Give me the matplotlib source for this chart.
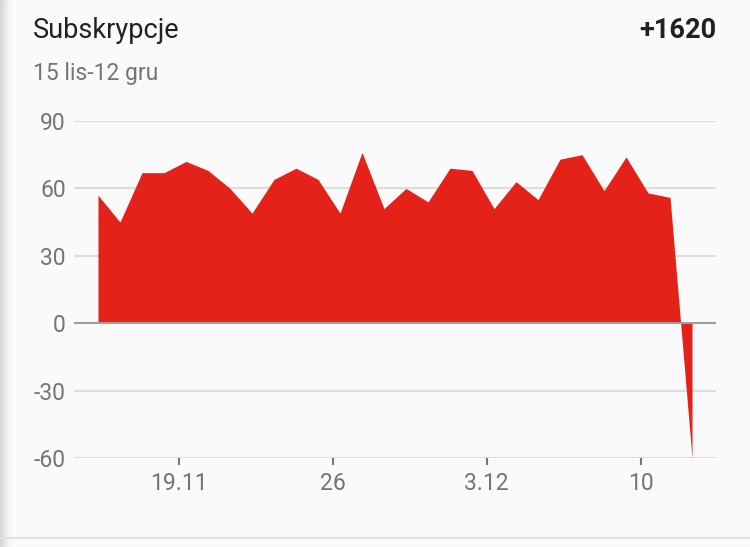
import numpy as np
import matplotlib
matplotlib.use("Agg")
import matplotlib.pyplot as plt
from matplotlib.patches import Rectangle
from matplotlib.lines import Line2D

# daily new subscriptions, 15 Nov - 12 Dec
days = list(range(28))
subs = [57, 45, 67, 67, 72, 68, 60, 49, 64, 69, 64, 49, 76, 51,
        60, 54, 69, 68, 51, 63, 55, 73, 75, 59, 74, 58, 56, -60]

tick_days = [4, 11, 18, 25]          # 19.11, 26, 3.12, 10
tick_labels = ["19.11", "26", "3.12", "10"]
y_ticks = [-60, -30, 0, 30, 60, 90]

title = "Subskrypcje"
total = "+1620"
subtitle = "15 lis-12 gru"

plt.rcParams['font.family'] = ['Roboto', 'DejaVu Sans']

bg = '#fafafa'
red = '#e4221a'
grey_txt = '#757575'

fig = plt.figure(figsize=(7.5, 5.47), dpi=100, facecolor=bg)
ax = fig.add_axes([74/750, 1 - 458/547, (716 - 74)/750, (458 - 121)/547])
ax.set_facecolor(bg)

x = np.array(days, dtype=float)
y = np.array(subs, dtype=float)
ax.fill_between(x, y, 0, color=red, linewidth=0, interpolate=True, zorder=2)

# grid
for v in y_ticks:
    if v == 0:
        continue
    ax.axhline(v, color='#dddddd', lw=1.5, zorder=1)
ax.axhline(0, color='#9e9e9e', lw=1.5, zorder=3)

ax.set_xlim(-1.09, 28.09)
ax.set_ylim(-60, 90)
ax.set_yticks(y_ticks)
ax.set_yticklabels([str(v) for v in y_ticks])
# labels sit slightly before the day's point in the app
ax.set_xticks([d - 0.33 for d in tick_days])
ax.set_xticklabels(tick_labels)

ax.tick_params(axis='y', length=0, pad=6, labelsize=16.5, labelcolor=grey_txt)
ax.tick_params(axis='x', length=5, width=1.5, color='#757575', pad=5,
               labelsize=16.5, labelcolor=grey_txt, direction='out')
for s in ax.spines.values():
    s.set_visible(False)

fig.text(33/750, 1 - 38/547, title, fontsize=19.5, color='#212121', va='baseline', ha='left')
fig.text(716/750, 1 - 38/547, total, fontsize=19.5, color='#212121', va='baseline', ha='right',
         fontweight='bold')
fig.text(33/750, 1 - 80/547, subtitle, fontsize=16.5, color=grey_txt, va='baseline', ha='left')

# left shadow strip and bottom divider
for i, c in enumerate(['#d6d6d6', '#dedede', '#e6e6e6', '#eeeeee', '#f4f4f4']):
    fig.patches.append(Rectangle((i * 2 / 750, 0), 2 / 750, 1, transform=fig.transFigure,
                                 color=c, zorder=0))
fig.lines.append(Line2D([0, 1], [1 - 538/547] * 2, transform=fig.transFigure,
                        color='#e0e0e0', lw=1.5))

fig.savefig("out.png", dpi=100, facecolor=bg)
